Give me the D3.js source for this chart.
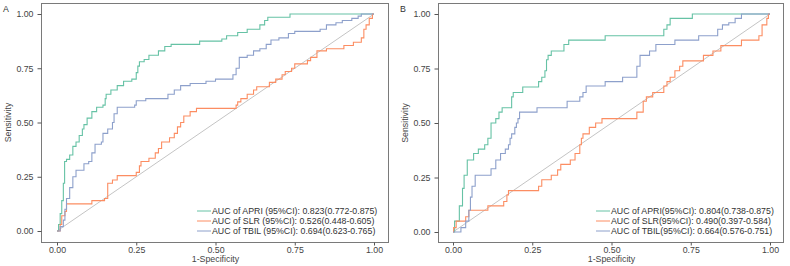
<!DOCTYPE html>
<html>
<head>
<meta charset="utf-8">
<script src="https://cdn.jsdelivr.net/npm/d3@7"></script>
<style>
    html, body { margin: 0; padding: 0; background: #fff; }
    svg { display: block; font-family: "Liberation Sans", Arial, sans-serif; }
</style>
</head>
<body>
<svg id="chart" width="790" height="266"></svg>
<script>
// ROC breakpoints: [1-specificity, sensitivity], drawn as steps
const apriA = [[0, 0], [0.005, 0.03], [0.01, 0.08], [0.015, 0.14], [0.02, 0.22], [0.024, 0.32], [0.03, 0.33], [0.04, 0.35], [0.05, 0.39], [0.06, 0.41], [0.07, 0.44], [0.08, 0.47], [0.085, 0.49], [0.095, 0.52], [0.11, 0.55], [0.125, 0.57], [0.145, 0.58], [0.152, 0.61], [0.155, 0.63], [0.17, 0.65], [0.19, 0.67], [0.21, 0.69], [0.236, 0.70], [0.25, 0.73], [0.255, 0.76], [0.26, 0.78], [0.275, 0.79], [0.29, 0.81], [0.32, 0.83], [0.34, 0.85], [0.36, 0.86], [0.45, 0.875], [0.52, 0.885], [0.535, 0.90], [0.57, 0.915], [0.60, 0.93], [0.64, 0.95], [0.655, 0.97], [0.665, 0.985], [0.735, 1.0], [1, 1]];
const slrA = [[0, 0], [0.01, 0.03], [0.015, 0.07], [0.025, 0.09], [0.03, 0.125], [0.11, 0.14], [0.15, 0.15], [0.16, 0.22], [0.175, 0.235], [0.19, 0.255], [0.25, 0.27], [0.26, 0.30], [0.265, 0.32], [0.29, 0.335], [0.31, 0.36], [0.32, 0.38], [0.33, 0.41], [0.355, 0.43], [0.37, 0.45], [0.38, 0.48], [0.39, 0.50], [0.40, 0.53], [0.42, 0.55], [0.44, 0.565], [0.565, 0.58], [0.57, 0.595], [0.58, 0.61], [0.60, 0.63], [0.62, 0.65], [0.63, 0.665], [0.67, 0.685], [0.69, 0.70], [0.71, 0.72], [0.72, 0.735], [0.74, 0.75], [0.75, 0.77], [0.79, 0.785], [0.80, 0.80], [0.82, 0.83], [0.85, 0.84], [0.905, 0.855], [0.935, 0.87], [0.96, 0.89], [0.968, 0.93], [0.975, 0.95], [0.985, 0.98], [0.995, 1.0], [1, 1]];
const tbilA = [[0, 0], [0.01, 0.02], [0.02, 0.05], [0.025, 0.10], [0.03, 0.15], [0.04, 0.20], [0.05, 0.25], [0.06, 0.28], [0.085, 0.31], [0.10, 0.32], [0.11, 0.36], [0.12, 0.40], [0.14, 0.41], [0.145, 0.45], [0.16, 0.47], [0.175, 0.50], [0.18, 0.54], [0.19, 0.57], [0.245, 0.58], [0.25, 0.60], [0.28, 0.61], [0.35, 0.63], [0.37, 0.65], [0.39, 0.67], [0.42, 0.68], [0.47, 0.69], [0.50, 0.70], [0.555, 0.72], [0.565, 0.75], [0.575, 0.80], [0.60, 0.81], [0.62, 0.83], [0.64, 0.84], [0.66, 0.86], [0.675, 0.88], [0.70, 0.89], [0.73, 0.91], [0.75, 0.92], [0.83, 0.93], [0.85, 0.95], [0.88, 0.96], [0.90, 0.97], [0.93, 0.98], [0.95, 0.99], [0.96, 1.0], [1, 1]];

const apriB = [[0, 0], [0.005, 0.05], [0.02, 0.12], [0.03, 0.20], [0.035, 0.26], [0.045, 0.33], [0.065, 0.36], [0.08, 0.38], [0.10, 0.40], [0.11, 0.43], [0.12, 0.50], [0.135, 0.52], [0.145, 0.55], [0.155, 0.57], [0.185, 0.62], [0.19, 0.64], [0.22, 0.665], [0.27, 0.69], [0.28, 0.71], [0.29, 0.74], [0.295, 0.79], [0.30, 0.81], [0.31, 0.83], [0.35, 0.86], [0.365, 0.88], [0.48, 0.90], [0.665, 0.93], [0.675, 0.95], [0.685, 0.98], [0.755, 1.0], [1, 1]];
const slrB = [[0, 0], [0.002, 0.02], [0.01, 0.05], [0.04, 0.07], [0.05, 0.10], [0.11, 0.12], [0.16, 0.14], [0.17, 0.17], [0.175, 0.19], [0.27, 0.21], [0.28, 0.24], [0.31, 0.26], [0.33, 0.285], [0.34, 0.31], [0.37, 0.33], [0.385, 0.36], [0.40, 0.40], [0.405, 0.43], [0.41, 0.45], [0.43, 0.48], [0.45, 0.50], [0.47, 0.52], [0.58, 0.55], [0.60, 0.60], [0.61, 0.62], [0.63, 0.64], [0.665, 0.67], [0.675, 0.69], [0.685, 0.71], [0.70, 0.74], [0.715, 0.76], [0.725, 0.785], [0.79, 0.81], [0.82, 0.83], [0.845, 0.855], [0.91, 0.88], [0.965, 0.90], [0.975, 0.95], [0.99, 0.98], [0.995, 1.0], [1, 1]];
const tbilB = [[0, 0], [0.025, 0.02], [0.04, 0.05], [0.05, 0.10], [0.055, 0.16], [0.06, 0.21], [0.07, 0.26], [0.12, 0.29], [0.135, 0.33], [0.15, 0.36], [0.165, 0.38], [0.175, 0.40], [0.18, 0.43], [0.185, 0.45], [0.195, 0.48], [0.20, 0.50], [0.205, 0.52], [0.21, 0.55], [0.265, 0.57], [0.36, 0.60], [0.40, 0.62], [0.41, 0.64], [0.42, 0.67], [0.48, 0.69], [0.535, 0.71], [0.58, 0.76], [0.59, 0.81], [0.62, 0.83], [0.64, 0.86], [0.70, 0.88], [0.775, 0.90], [0.835, 0.93], [0.85, 0.95], [0.87, 0.96], [0.89, 0.98], [0.91, 1.0], [1, 1]];

const tickValues = [0, 0.25, 0.5, 0.75, 1];
const seriesColors = ['#66C2A5', '#FC8D62', '#8DA0CB'];
const legendA = [
    'AUC of APRI (95%CI): 0.823(0.772-0.875)',
    'AUC of SLR (95%CI): 0.526(0.448-0.605)',
    'AUC of TBIL (95%CI): 0.694(0.623-0.765)'
];
const legendB = [
    'AUC of APRI(95%CI): 0.804(0.738-0.875)',
    'AUC of SLR(95%CI): 0.490(0.397-0.584)',
    'AUC of TBIL(95%CI): 0.664(0.576-0.751)'
];

const panels = [
    { tag: 'A', curves: [apriA, slrA, tbilA], legend: legendA,
      frame: { left: 41, right: 388, top: 3, bottom: 242 },
      xRange: [57, 374], yRange: [231, 14], legendX: 197 },
    { tag: 'B', curves: [apriB, slrB, tbilB], legend: legendB,
      frame: { left: 438, right: 783, top: 3, bottom: 242 },
      xRange: [453, 770], yRange: [232, 14], legendX: 596 }
];

const svg = d3.select('#chart');
const textColor = '#444';
const fontSize = 8.8;

function drawPanel(panel) {
    const g = svg.append('g');
    const x = d3.scaleLinear().domain([0, 1]).range(panel.xRange);
    const y = d3.scaleLinear().domain([0, 1]).range(panel.yRange);
    const f = panel.frame;

    // diagonal reference
    g.append('line')
        .attr('x1', x(0)).attr('y1', y(0))
        .attr('x2', x(1)).attr('y2', y(1))
        .attr('stroke', '#c4c4c4')
        .attr('stroke-width', 1);

    const line = d3.line()
        .x((d) => x(d[0]))
        .y((d) => y(d[1]))
        .curve(d3.curveStepAfter);

    panel.curves.forEach((curve, i) => {
        g.append('path')
            .datum(curve)
            .attr('d', line)
            .attr('fill', 'none')
            .attr('stroke', seriesColors[i])
            .attr('stroke-width', 1.1);
    });

    g.append('rect')
        .attr('x', f.left + 0.5).attr('y', f.top + 0.5)
        .attr('width', f.right - f.left).attr('height', f.bottom - f.top)
        .attr('fill', 'none')
        .attr('stroke', '#7a7a7a')
        .attr('stroke-width', 1);

    const xAxis = g.append('g')
        .attr('transform', `translate(0,${f.bottom + 0.5})`)
        .call(d3.axisBottom(x).tickValues(tickValues).tickFormat(d3.format('.2f')).tickSize(3).tickPadding(1));
    const yAxis = g.append('g')
        .attr('transform', `translate(${f.left + 0.5},0)`)
        .call(d3.axisLeft(y).tickValues(tickValues).tickFormat(d3.format('.2f')).tickSize(4).tickPadding(4));

    [xAxis, yAxis].forEach((axis) => {
        axis.select('.domain').remove();
        axis.selectAll('line').attr('stroke', '#555');
        axis.selectAll('text')
            .attr('fill', textColor)
            .attr('font-size', fontSize)
            .attr('font-family', '"Liberation Sans", Arial, sans-serif');
    });

    g.append('text')
        .attr('x', (x(0) + x(1)) / 2)
        .attr('y', 262)
        .attr('text-anchor', 'middle')
        .attr('fill', textColor)
        .attr('font-size', fontSize)
        .text('1-Specificity');

    g.append('text')
        .attr('transform', `translate(${f.left - 30},${(y(0) + y(1)) / 2}) rotate(-90)`)
        .attr('text-anchor', 'middle')
        .attr('fill', textColor)
        .attr('font-size', fontSize)
        .text('Sensitivity');

    g.append('text')
        .attr('x', f.left - 38)
        .attr('y', 12)
        .attr('fill', '#333')
        .attr('font-size', fontSize)
        .text(panel.tag);

    panel.legend.forEach((label, i) => {
        const rowY = 211 + i * 10;
        g.append('line')
            .attr('x1', panel.legendX).attr('x2', panel.legendX + 14)
            .attr('y1', rowY).attr('y2', rowY)
            .attr('stroke', seriesColors[i])
            .attr('stroke-width', 1);
        g.append('text')
            .attr('x', panel.legendX + 15)
            .attr('y', rowY)
            .attr('dy', '0.35em')
            .attr('fill', '#333')
            .attr('font-size', fontSize)
            .text(label);
    });
}

panels.forEach(drawPanel);
</script>
</body>
</html>
